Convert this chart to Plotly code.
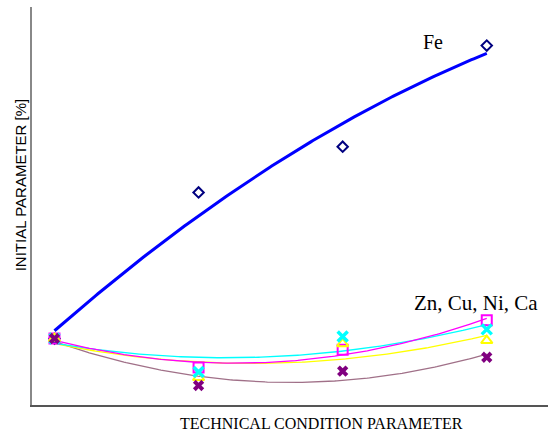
import numpy as np
import plotly.graph_objects as go

# Data (y in arbitrary % units)
x_cond = [1, 2, 3, 4]
fe = [16.7, 53.4, 64.9, 90.3]
zn = [16.7, 9.4, 13.9, 21.3]     # magenta squares
cu = [16.7, 8.3, 17.2, 19.0]     # cyan crosses
ni = [16.7, 6.9, 15.4, 16.2]     # yellow triangles
ca = [16.7, 4.9, 8.5, 12.0]      # purple crosses

x_title = "TECHNICAL CONDITION PARAMETER"
y_title = "INITIAL PARAMETER [%]"
label_fe = "Fe"
label_group = "Zn, Cu, Ni, Ca"

SERIF = "Liberation Serif, Times New Roman, serif"
SANS = "Liberation Sans, Arial, sans-serif"

fig = go.Figure()

xs = np.linspace(min(x_cond), max(x_cond), 200)

def trend(y):
    c = np.polyfit(x_cond, y, 2)
    return np.polyval(c, xs)

# trendlines
fig.add_trace(go.Scatter(x=xs, y=trend(fe), mode="lines",
                         line=dict(color="#0000FF", width=3), hoverinfo="skip"))
fig.add_trace(go.Scatter(x=xs, y=trend(ca), mode="lines",
                         line=dict(color="#A07088", width=1.3), hoverinfo="skip"))
fig.add_trace(go.Scatter(x=xs, y=trend(ni), mode="lines",
                         line=dict(color="#FFFF00", width=1.3), hoverinfo="skip"))
fig.add_trace(go.Scatter(x=xs, y=trend(cu), mode="lines",
                         line=dict(color="#00FFFF", width=1.3), hoverinfo="skip"))
fig.add_trace(go.Scatter(x=xs, y=trend(zn), mode="lines",
                         line=dict(color="#FF00FF", width=1.3), hoverinfo="skip"))

# markers
fig.add_trace(go.Scatter(x=x_cond, y=fe, mode="markers",
                         marker=dict(symbol="diamond-open", size=8, color="#000080",
                                     line=dict(width=2, color="#000080"))))
fig.add_trace(go.Scatter(x=x_cond, y=zn, mode="markers",
                         marker=dict(symbol="square-open", size=10, color="#FF00FF",
                                     line=dict(width=2, color="#FF00FF"))))
fig.add_trace(go.Scatter(x=x_cond, y=ni, mode="markers",
                         marker=dict(symbol="triangle-up-open", size=10, color="#FFFF00",
                                     line=dict(width=2, color="#FFFF00"))))
fig.add_trace(go.Scatter(x=x_cond, y=cu, mode="markers",
                         marker=dict(symbol="x-thin-open", size=10, color="#00FFFF",
                                     line=dict(width=3.5, color="#00FFFF"))))
fig.add_trace(go.Scatter(x=x_cond, y=ca, mode="markers",
                         marker=dict(symbol="x", size=10, color="#800080",
                                     line=dict(width=0))))

fig.update_layout(
    width=548, height=435,
    margin=dict(l=32, r=0, t=7, b=30),
    paper_bgcolor="white", plot_bgcolor="white",
    showlegend=False,
    xaxis=dict(range=[0.844, 4.425], showgrid=False, zeroline=False,
               showticklabels=False, ticks="", showline=True,
               linecolor="#555555", linewidth=2),
    yaxis=dict(range=[0, 100], showgrid=False, zeroline=False,
               showticklabels=False, ticks="", showline=True,
               linecolor="#888888", linewidth=1.5),
    annotations=[
        dict(text=x_title, xref="paper", yref="paper", x=0.562, y=0,
             yshift=-18, showarrow=False, yanchor="middle",
             font=dict(family=SERIF, size=16, color="black")),
        dict(text=y_title, xref="paper", yref="paper", x=0, y=0.552,
             xshift=-12, showarrow=False, textangle=-90, xanchor="center",
             font=dict(family=SANS, size=15, color="black")),
        dict(text=label_fe, x=3.625, y=91.2, xref="x", yref="y",
             showarrow=False, font=dict(family=SERIF, size=20, color="black")),
        dict(text=label_group, x=3.922, y=25.6, xref="x", yref="y",
             showarrow=False, font=dict(family=SERIF, size=21, color="black")),
    ],
)

fig.write_html("out.html", config={"displayModeBar": False},
               post_script="document.body.style.margin='0';document.body.style.overflow='hidden';")
